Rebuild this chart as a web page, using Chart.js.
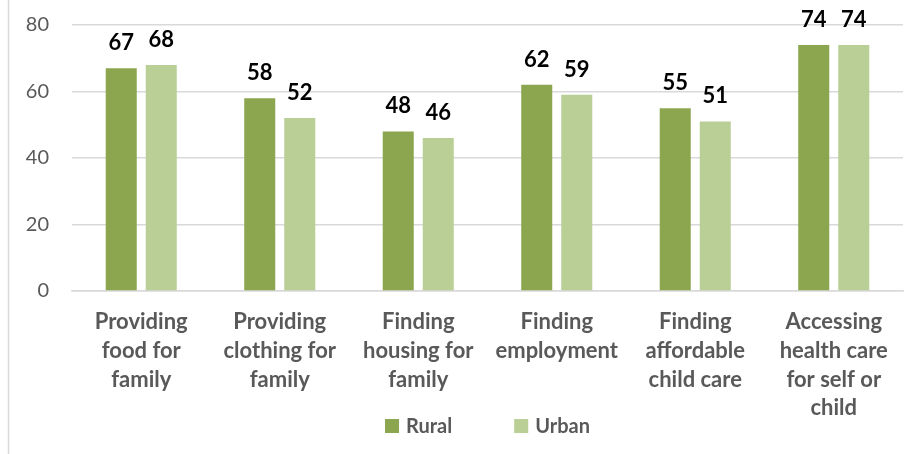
<!DOCTYPE html>
<html>
<head>
<meta charset="utf-8">
<script src="https://cdn.jsdelivr.net/npm/chart.js@4"></script>
<style>
  html, body { margin: 0; padding: 0; background: #fff; }
  #wrap { width: 919px; height: 454px; position: relative; }
</style>
</head>
<body>
<div id="wrap"><canvas id="barChart"></canvas></div>
<script>
// Survey results: share reporting difficulty, by area
const categories = [
    ['Providing', 'food for', 'family'],
    ['Providing', 'clothing for', 'family'],
    ['Finding', 'housing for', 'family'],
    ['Finding', 'employment'],
    ['Finding', 'affordable', 'child care'],
    ['Accessing', 'health care', 'for self or', 'child']
];
const rural = [67, 58, 48, 62, 55, 74];
const urban = [68, 52, 46, 59, 51, 74];
const yTicks = [0, 20, 40, 60, 80];

const FONT = 'Lato, "Open Sans", sans-serif';
const TEXT_GRAY = '#595959';
const LINE_GRAY = '#d9d9d9';

// value labels above each bar
const barValues = {
    id: 'barValues',
    afterDatasetsDraw(chart) {
        const ctx = chart.ctx;
        ctx.save();
        ctx.font = 'bold 22px ' + FONT;
        ctx.fillStyle = '#000';
        ctx.textAlign = 'center';
        ctx.textBaseline = 'alphabetic';
        chart.data.datasets.forEach((ds, i) => {
            chart.getDatasetMeta(i).data.forEach((bar, j) => {
                ctx.fillText(ds.data[j], bar.x, bar.y - 18);
            });
        });
        ctx.restore();
    }
};

// thin frame edge on the left
const frameEdge = {
    id: 'frameEdge',
    beforeDraw(chart) {
        const ctx = chart.ctx;
        ctx.save();
        ctx.strokeStyle = LINE_GRAY;
        ctx.lineWidth = 1.5;
        ctx.beginPath();
        ctx.moveTo(8.5, 0);
        ctx.lineTo(8.5, chart.height);
        ctx.stroke();
        ctx.restore();
    }
};

// legend row under the axis labels, items spread wide apart
const wideLegend = {
    id: 'wideLegend',
    afterDraw(chart) {
        const ctx = chart.ctx;
        const box = 14, gap = 7, spacing = 62;
        ctx.save();
        ctx.font = 'bold 20px ' + FONT;
        ctx.textBaseline = 'middle';
        ctx.textAlign = 'left';
        const items = chart.data.datasets.map(ds => ({
            text: ds.label,
            color: ds.backgroundColor,
            w: box + gap + ctx.measureText(ds.label).width
        }));
        const total = items.reduce((s, it) => s + it.w, 0) + spacing * (items.length - 1);
        const area = chart.chartArea;
        let x = (area.left + area.right) / 2 - total / 2;
        const y = chart.height - 28;
        items.forEach(it => {
            ctx.fillStyle = it.color;
            ctx.fillRect(x, y - box / 2, box, box);
            ctx.fillStyle = TEXT_GRAY;
            ctx.fillText(it.text, x + box + gap, y + 1);
            x += it.w + spacing;
        });
        ctx.restore();
    }
};

const ctx = document.getElementById('barChart').getContext('2d');
const barChart = new Chart(ctx, {
    type: 'bar',
    data: {
        labels: categories,
        datasets: [{
            label: 'Rural',
            data: rural,
            backgroundColor: '#8ba64f',
            categoryPercentage: 0.578,
            barPercentage: 0.775
        }, {
            label: 'Urban',
            data: urban,
            backgroundColor: '#b9cf95',
            categoryPercentage: 0.578,
            barPercentage: 0.775
        }]
    },
    options: {
        responsive: true,
        maintainAspectRatio: false,
        animation: false,
        layout: { padding: { top: 0, right: 16, left: 0, bottom: 31 } },
        plugins: {
            tooltip: { enabled: false },
            legend: { display: false }
        },
        scales: {
            x: {
                afterFit(axis) {
                    axis.height = 132;
                },
                grid: { display: false, drawTicks: false },
                border: { display: true, color: LINE_GRAY, width: 1.5 },
                ticks: {
                    font: { family: FONT, size: 22, weight: 'bold', lineHeight: 1.3 },
                    color: TEXT_GRAY,
                    padding: 17,
                    maxRotation: 0,
                    autoSkip: false
                }
            },
            y: {
                min: 0,
                max: 80,
                afterBuildTicks(axis) {
                    axis.ticks = yTicks.map(v => ({ value: v }));
                },
                afterFit(axis) {
                    axis.width = 72;
                    axis.paddingTop = 25;
                    axis.paddingBottom = 0;
                },
                grid: { color: LINE_GRAY, lineWidth: 1.5, drawTicks: false },
                border: { display: false },
                ticks: {
                    font: { family: FONT, size: 20 },
                    color: TEXT_GRAY,
                    padding: 23
                }
            }
        }
    },
    plugins: [frameEdge, barValues, wideLegend]
});
</script>
</body>
</html>
